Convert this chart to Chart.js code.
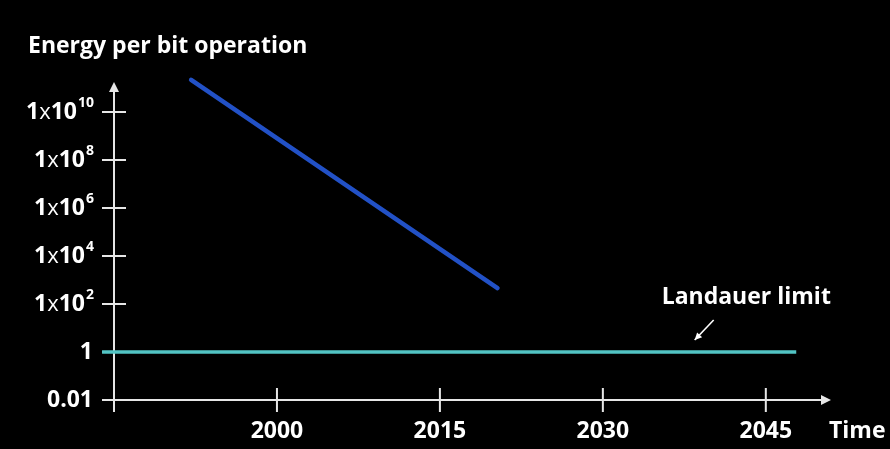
<!DOCTYPE html>
<html><head><meta charset="utf-8">
<script src="https://cdn.jsdelivr.net/npm/chart.js@4/dist/chart.umd.min.js"></script>
<style>html,body{margin:0;padding:0;background:#000;}#wrap{width:890px;height:449px;}</style>
</head><body><div id="wrap"><canvas id="c" width="890" height="449"></canvas></div>
<script>
// Data
const trendYears = [1992.1, 2020.3];
const trendEnergy = [2.2e11, 4.6e2];
const landauerYears = [1983.9, 2047.8];
const landauerEnergy = [1, 1];
const xTicks = [2000, 2015, 2030, 2045];
const xTickLabels = ['2000', '2015', '2030', '2045'];
const yTicks = [0.01, 1, 1e2, 1e4, 1e6, 1e8, 1e10];
const yTickBase = ['0.01', '1', '1x10', '1x10', '1x10', '1x10', '1x10'];
const yTickExp = ['', '', '2', '4', '6', '8', '10'];
const titleText = 'Energy per bit operation';
const xTitle = 'Time';
const annotText = 'Landauer limit';
const annotPos = [2043.2, 195];
const annotArrow = [[2040.2, 21.5], [2038.45, 3.16]];

const FONT = '"Open Sans", "DejaVu Sans", sans-serif';
const AX = '#e6e6e6';
const FS = 23;

const axesPlugin = {
  id: 'axes',
  beforeDatasetsDraw(chart) {
    const {ctx, scales: {x, y}} = chart;
    const x0 = x.getPixelForValue(1985), y0 = y.getPixelForValue(0.01);
    const xEnd = x.getPixelForValue(2051), yTop = y.getPixelForValue(Math.pow(10, 11.25));
    ctx.save();
    ctx.strokeStyle = AX; ctx.fillStyle = AX; ctx.lineWidth = 2;
    ctx.beginPath();
    ctx.moveTo(x0, y0 + 12); ctx.lineTo(x0, yTop + 6);
    ctx.moveTo(x0 - 12, y0); ctx.lineTo(xEnd - 6, y0);
    yTicks.forEach(v => { const py = y.getPixelForValue(v); ctx.moveTo(x0 - 12, py); ctx.lineTo(x0 + 12, py); });
    xTicks.forEach(v => { const px = x.getPixelForValue(v); ctx.moveTo(px, y0 - 12); ctx.lineTo(px, y0 + 12); });
    ctx.stroke();
    ctx.beginPath();
    ctx.moveTo(x0, yTop); ctx.lineTo(x0 - 5, yTop + 10); ctx.lineTo(x0 + 5, yTop + 10); ctx.closePath(); ctx.fill();
    ctx.beginPath();
    ctx.moveTo(xEnd, y0); ctx.lineTo(xEnd - 10, y0 - 5); ctx.lineTo(xEnd - 10, y0 + 5); ctx.closePath(); ctx.fill();
    ctx.restore();
  },
  afterDraw(chart) {
    const {ctx, scales: {x, y}} = chart;
    ctx.save();
    ctx.fillStyle = '#fff';
    ctx.textBaseline = 'middle';
    ctx.font = 'bold ' + FS + 'px ' + FONT;
    ctx.textAlign = 'left';
    ctx.fillText(titleText, 28, 46);
    yTicks.forEach((v, i) => {
      const py = y.getPixelForValue(v);
      const right = 94;
      ctx.font = 'bold ' + FS + 'px ' + FONT;
      ctx.textAlign = 'right';
      if (!yTickExp[i]) {
        ctx.fillText(yTickBase[i], right - 1, py);
      } else {
        ctx.font = 'bold 14px ' + FONT;
        const ew = ctx.measureText(yTickExp[i]).width;
        ctx.fillText(yTickExp[i], right, py - 9);
        ctx.font = 'bold ' + FS + 'px ' + FONT;
        ctx.fillText('10', right - ew - 1, py);
        const w10 = ctx.measureText('10').width;
        ctx.font = '22px ' + FONT;
        ctx.fillText('x', right - ew - 1 - w10, py + 1);
        const wx = ctx.measureText('x').width;
        ctx.font = 'bold ' + FS + 'px ' + FONT;
        ctx.fillText('1', right - ew - 1 - w10 - wx, py);
      }
    });
    ctx.font = 'bold ' + FS + 'px ' + FONT;
    ctx.textAlign = 'center';
    const y0 = y.getPixelForValue(0.01);
    xTicks.forEach((v, i) => ctx.fillText(xTickLabels[i], x.getPixelForValue(v), y0 + 31));
    ctx.textAlign = 'left';
    ctx.fillText(xTitle, 829, y0 + 31);
    ctx.textAlign = 'center';
    ctx.fillText(annotText, x.getPixelForValue(annotPos[0]), y.getPixelForValue(annotPos[1]));
    const ax1 = x.getPixelForValue(annotArrow[0][0]), ay1 = y.getPixelForValue(annotArrow[0][1]);
    const ax2 = x.getPixelForValue(annotArrow[1][0]), ay2 = y.getPixelForValue(annotArrow[1][1]);
    ctx.strokeStyle = '#fff'; ctx.lineWidth = 1.6;
    ctx.beginPath(); ctx.moveTo(ax1, ay1); ctx.lineTo(ax2, ay2); ctx.stroke();
    const ang = Math.atan2(ay2 - ay1, ax2 - ax1);
    ctx.beginPath();
    ctx.moveTo(ax2, ay2);
    ctx.lineTo(ax2 - 8 * Math.cos(ang - 0.45), ay2 - 8 * Math.sin(ang - 0.45));
    ctx.lineTo(ax2 - 8 * Math.cos(ang + 0.45), ay2 - 8 * Math.sin(ang + 0.45));
    ctx.closePath(); ctx.fillStyle = '#fff'; ctx.fill();
    ctx.restore();
  }
};

new Chart(document.getElementById('c'), {
  type: 'line',
  data: {
    datasets: [
      { data: trendYears.map((t, i) => ({x: t, y: trendEnergy[i]})), borderColor: '#2251c6', borderWidth: 4.5, borderCapStyle: 'round', pointRadius: 0, clip: false },
      { data: landauerYears.map((t, i) => ({x: t, y: landauerEnergy[i]})), borderColor: '#52c4c4', borderWidth: 3.5, pointRadius: 0, clip: false }
    ]
  },
  options: {
    responsive: false, animation: false,
    layout: { padding: { left: 114, right: 59, top: 64, bottom: 49 } },
    plugins: { legend: { display: false }, tooltip: { enabled: false } },
    scales: {
      x: { type: 'linear', min: 1985, max: 2051, display: false },
      y: { type: 'logarithmic', min: 0.01, max: 1e12, display: false }
    }
  },
  plugins: [axesPlugin, { id: 'bg', beforeDraw(c) { c.ctx.save(); c.ctx.fillStyle = '#000'; c.ctx.fillRect(0, 0, c.width, c.height); c.ctx.restore(); } }]
});
</script></body></html>
